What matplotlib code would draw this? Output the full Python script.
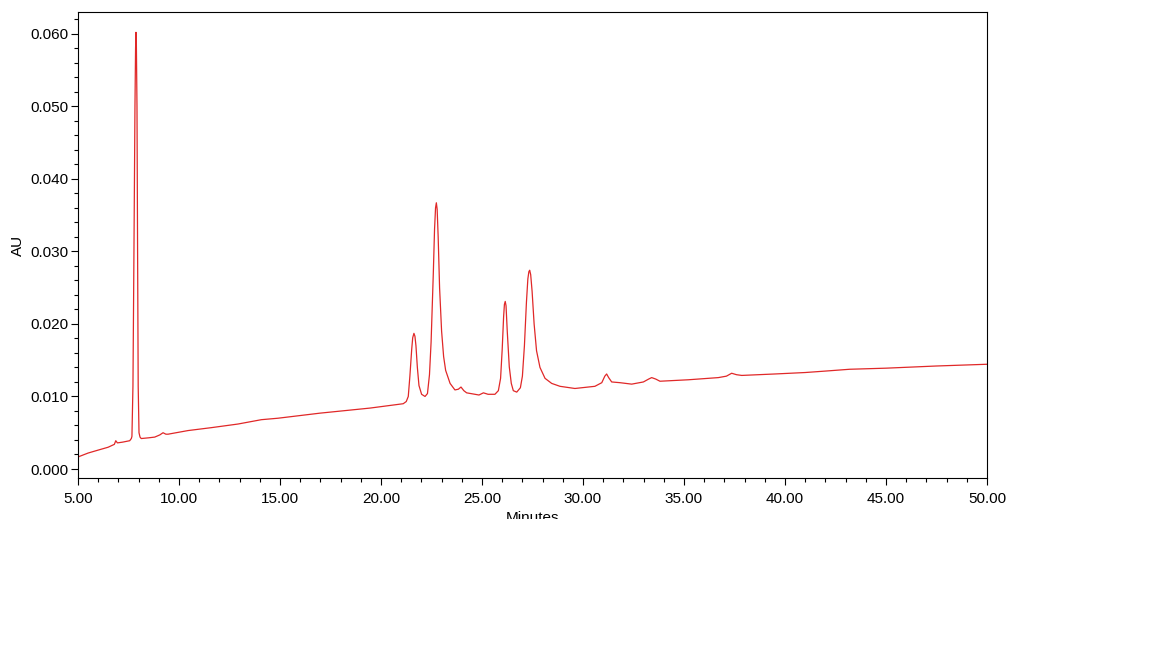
import matplotlib
matplotlib.use("Agg")
import matplotlib.pyplot as plt
from matplotlib.ticker import MultipleLocator, FormatStrFormatter
from matplotlib.patches import Rectangle

plt.rcParams['font.family'] = ['Liberation Sans', 'DejaVu Sans']

# retention time (min) and absorbance (AU)
minutes = [5.00, 5.50, 5.99, 6.49, 6.80, 6.87, 6.95, 7.20, 7.56, 7.64,
           7.67, 7.72, 7.77, 7.82, 7.85, 7.87, 7.89, 7.92, 7.95, 7.98,
           8.02, 8.07, 8.13, 8.50, 8.80, 9.05, 9.21, 9.35, 9.46, 10.45,
           11.60, 12.92, 14.08, 14.90, 16.98, 19.46, 21.10, 21.25, 21.35, 21.43,
           21.52, 21.57, 21.63, 21.68, 21.73, 21.80, 21.88, 22.01, 22.18, 22.30,
           22.40, 22.48, 22.59, 22.65, 22.70, 22.74, 22.78, 22.83, 22.90, 23.00,
           23.10, 23.20, 23.42, 23.66, 23.83, 23.96, 24.10, 24.24, 24.65, 24.85,
           25.07, 25.30, 25.64, 25.81, 25.92, 26.00, 26.07, 26.11, 26.15, 26.19,
           26.25, 26.35, 26.45, 26.55, 26.72, 26.90, 27.00, 27.10, 27.20, 27.27,
           27.32, 27.36, 27.41, 27.48, 27.58, 27.70, 27.87, 28.12, 28.45, 28.86,
           29.60, 30.59, 30.93, 31.08, 31.17, 31.27, 31.42, 31.83, 32.41, 32.99,
           33.25, 33.40, 33.60, 33.81, 35.21, 36.70, 37.10, 37.36, 37.60, 37.86,
           39.50, 41.00, 42.00, 43.20, 45.00, 47.50, 50.00]
absorbance = [0.00166, 0.0022, 0.0026, 0.0030, 0.0034, 0.0039, 0.0036, 0.0037, 0.0039, 0.0042,
              0.0045, 0.0114, 0.0300, 0.0500, 0.0580, 0.0602, 0.0585, 0.0500, 0.0300, 0.0114,
              0.0050, 0.0044, 0.0042, 0.0043, 0.0044, 0.0047, 0.0050, 0.0048, 0.0048, 0.0053,
              0.0057, 0.0062, 0.0068, 0.0070, 0.0077, 0.0084, 0.0090, 0.0093, 0.0100, 0.0128,
              0.0165, 0.0181, 0.0187, 0.0183, 0.0170, 0.0140, 0.0115, 0.0103, 0.0100, 0.0104,
              0.0130, 0.0175, 0.0270, 0.0330, 0.0360, 0.0367, 0.0358, 0.0320, 0.0250, 0.0190,
              0.0155, 0.0136, 0.0118, 0.0109, 0.0110, 0.0113, 0.0108, 0.0105, 0.0103, 0.0102,
              0.0105, 0.0103, 0.0103, 0.0108, 0.0125, 0.0165, 0.0210, 0.0227, 0.0231, 0.0225,
              0.0190, 0.0141, 0.0118, 0.0108, 0.0106, 0.0112, 0.0128, 0.0170, 0.0230, 0.0262,
              0.0272, 0.0274, 0.0268, 0.0245, 0.0200, 0.0163, 0.0140, 0.0125, 0.0118, 0.0114,
              0.0111, 0.0114, 0.0119, 0.0128, 0.0131, 0.0126, 0.0120, 0.0119, 0.0117, 0.0120,
              0.0124, 0.0126, 0.0124, 0.0121, 0.0123, 0.0126, 0.0128, 0.0132, 0.0130, 0.0129,
              0.0131, 0.0133, 0.0135, 0.01375, 0.0139, 0.0142, 0.01444]

fig = plt.figure(figsize=(11.52, 6.48), dpi=100)
ax = fig.add_axes([78 / 1152, 1 - 478 / 648, 909 / 1152, 466 / 648])

ax.plot(minutes, absorbance, color='#e02828', lw=0.9)

ax.set_xlim(5, 50)
ax.set_ylim(-0.00124, 0.0630)

ax.xaxis.set_major_locator(MultipleLocator(5))
ax.xaxis.set_minor_locator(MultipleLocator(1))
ax.xaxis.set_major_formatter(FormatStrFormatter('%.2f'))
ax.yaxis.set_major_locator(MultipleLocator(0.010))
ax.yaxis.set_minor_locator(MultipleLocator(0.002))
ax.yaxis.set_major_formatter(FormatStrFormatter('%.3f'))

ax.tick_params(which='major', direction='out', length=5, width=0.8, labelsize=11, pad=2, colors='black')
ax.tick_params(axis='x', which='major', pad=5)
ax.tick_params(which='minor', direction='out', length=3.2, width=0.8)
for s in ax.spines.values():
    s.set_linewidth(0.8)
    s.set_color('black')

ax.set_ylabel('AU', fontsize=11, labelpad=4)
ax.set_xlabel('Minutes', fontsize=11, labelpad=3.5)

# the original image is cut just through the x label
fig.patches.append(Rectangle((0, 0), 1, (648 - 519) / 648, transform=fig.transFigure,
                             facecolor='white', edgecolor='none', zorder=10))

fig.savefig('out.png', dpi=100, facecolor='white')
